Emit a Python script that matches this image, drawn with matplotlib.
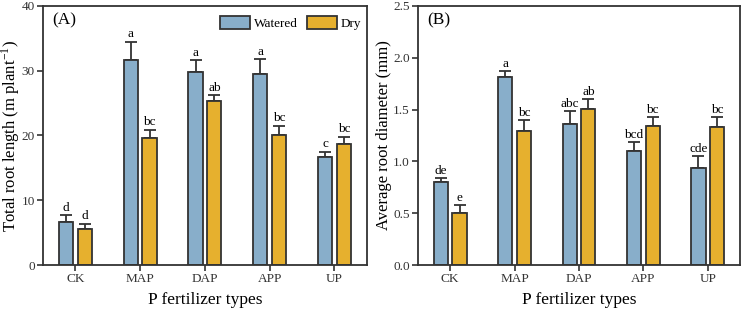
import numpy as np
import matplotlib.pyplot as plt

plt.rcParams['font.family'] = ['Liberation Serif', 'DejaVu Serif']
plt.rcParams['mathtext.fontset'] = 'stix'

types = ['CK', 'MAP', 'DAP', 'APP', 'UP']

# (A) total root length
len_w = [6.7, 31.7, 29.8, 29.5, 16.7]
len_w_err = [1.0, 2.8, 1.8, 2.3, 0.8]
len_d = [5.6, 19.6, 25.3, 20.1, 18.7]
len_d_err = [0.8, 1.3, 0.9, 1.4, 1.1]
len_w_lab = ['d', 'a', 'a', 'a', 'c']
len_d_lab = ['d', 'bc', 'ab', 'bc', 'bc']

# (B) average root diameter
dia_w = [0.80, 1.81, 1.365, 1.10, 0.935]
dia_w_err = [0.04, 0.06, 0.125, 0.09, 0.12]
dia_d = [0.50, 1.29, 1.51, 1.345, 1.335]
dia_d_err = [0.075, 0.11, 0.09, 0.085, 0.09]
dia_w_lab = ['de', 'a', 'abc', 'bcd', 'cde']
dia_d_lab = ['e', 'bc', 'ab', 'bc', 'bc']

c_w = '#88AECA'
c_d = '#E6B02E'
edge = '#333333'

fig = plt.figure(figsize=(7.47, 3.09), dpi=100)
axA = fig.add_axes([0.0576, 0.142, 0.4335, 0.839])
axB = fig.add_axes([0.5596, 0.142, 0.431, 0.839])

x = np.arange(len(types))
w = 0.22
off = 0.145


def panel(ax, vw, ew, vd, ed, lw_, ld_, ymax, step, pad, ylabel, tag, lab_x):
    ax.bar(x - off, vw, w, color=c_w, edgecolor=edge, linewidth=1.3, label='Watered', zorder=2)
    ax.bar(x + off, vd, w, color=c_d, edgecolor=edge, linewidth=1.3, label='Dry', zorder=2)
    ax.errorbar(x - off, vw, yerr=[np.zeros(5), ew], fmt='none', ecolor=edge,
                elinewidth=1.3, capsize=4, capthick=1.3, zorder=1)
    ax.errorbar(x + off, vd, yerr=[np.zeros(5), ed], fmt='none', ecolor=edge,
                elinewidth=1.3, capsize=4, capthick=1.3, zorder=1)
    for i in range(5):
        ax.text(x[i] - off, vw[i] + ew[i] + pad, lw_[i], ha='center', va='bottom', fontsize=9.5)
        ax.text(x[i] + off, vd[i] + ed[i] + pad, ld_[i], ha='center', va='bottom', fontsize=9.5)
    ax.set_xlim(-0.5, 4.5)
    ax.set_ylim(0, ymax)
    ax.set_yticks(np.arange(0, ymax + step / 2, step))
    ax.set_xticks(x)
    ax.set_xticklabels(types)
    ax.tick_params(direction='out', labelsize=9.5, length=4, width=1.2, colors='#333333', pad=2)
    for s in ax.spines.values():
        s.set_linewidth(1.3)
        s.set_color('#333333')
    ax.set_xlabel('P fertilizer types', fontsize=12.5, labelpad=5)
    ax.set_ylabel(ylabel, fontsize=12)
    ax.yaxis.set_label_coords(lab_x, 0.5)
    ax.text(0.03, 0.975, tag, transform=ax.transAxes, ha='left', va='top', fontsize=12.5)


panel(axA, len_w, len_w_err, len_d, len_d_err, len_w_lab, len_d_lab, 40, 10, 0.2,
      'Total root length (m plant$^{\\mathregular{-1}}$)', '(A)', -0.066)
axA.yaxis.set_major_formatter(plt.FormatStrFormatter('%d'))
panel(axB, dia_w, dia_w_err, dia_d, dia_d_err, dia_w_lab, dia_d_lab, 2.5, 0.5, 0.01,
      'Average root diameter (mm)', '(B)', -0.08)
axB.yaxis.set_major_formatter(plt.FormatStrFormatter('%.1f'))

axA.legend(loc='upper right', frameon=False, fontsize=9.5, ncol=2, handlelength=2.3,
           handleheight=1.1, columnspacing=0.7, handletextpad=0.25,
           bbox_to_anchor=(1.01, 0.995), borderaxespad=0.3)

fig.savefig('out.png', dpi=100)
